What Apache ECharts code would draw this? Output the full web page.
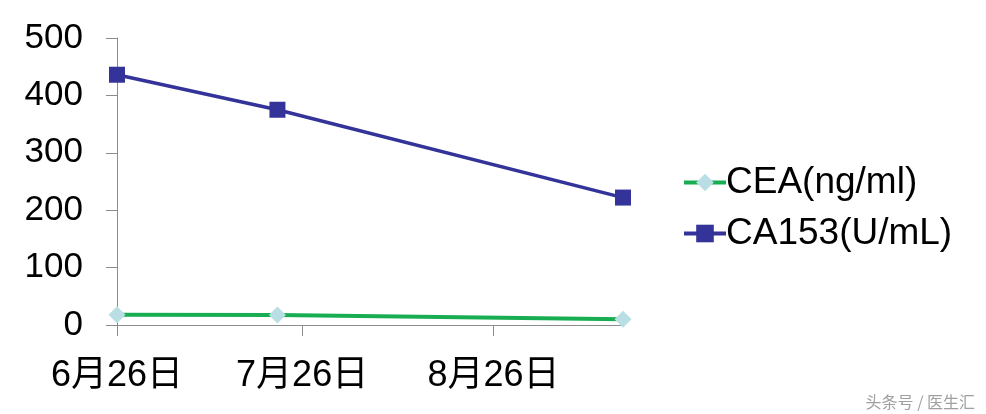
<!DOCTYPE html>
<html>
<head>
<meta charset="utf-8">
<script src="https://cdn.jsdelivr.net/npm/echarts@6/dist/echarts.min.js"></script>
<style>
html,body{margin:0;padding:0;background:#fff;}
#c{width:986px;height:414px;}
</style>
</head>
<body>
<div id="c"></div>
<script>
// Days since 6月26日
var dayOffsets = [0, 26, 82];
var ceaValues = [18, 17.5, 10];
var ca153Values = [436, 375, 222];
var tickDays = [0, 30, 61];
var tickLabels = ['6月26日', '7月26日', '8月26日'];

function pairs(xs, ys) { return xs.map(function (x, i) { return [x, ys[i]]; }); }

var FONT = '"Liberation Sans", Arial, "Noto Sans CJK SC", sans-serif';
var chart = echarts.init(document.getElementById('c'));
chart.setOption({
  animation: false,
  backgroundColor: '#fff',
  grid: { left: 117, top: 38, width: 506, height: 287, containLabel: false },
  xAxis: {
    type: 'value', min: 0, max: 82,
    splitLine: { show: false },
    axisLine: { lineStyle: { color: '#8c8c8c', width: 1 } },
    axisTick: { show: true, length: 11, customValues: tickDays, lineStyle: { color: '#8c8c8c' } },
    axisLabel: {
      customValues: tickDays, margin: 33, color: '#000', fontSize: 36, fontFamily: FONT,
      formatter: function (v) { var i = tickDays.indexOf(v); return i >= 0 ? tickLabels[i] : ''; }
    }
  },
  yAxis: {
    type: 'value', min: 0, max: 500, interval: 100,
    splitLine: { show: false },
    axisLine: { show: true, lineStyle: { color: '#8c8c8c', width: 1 } },
    axisTick: { show: true, length: 11, lineStyle: { color: '#8c8c8c' } },
    axisLabel: { margin: 34, color: '#000', fontSize: 35, fontFamily: FONT }
  },
  legend: {
    orient: 'vertical', left: 677, top: 159, itemGap: 14,
    itemWidth: 42, itemHeight: 22,
    lineStyle: { width: 4 },
    textStyle: { color: '#000', fontSize: 37, fontFamily: FONT, padding: [0, 0, 0, -5] },
    data: ['CEA(ng/ml)', 'CA153(U/mL)']
  },
  graphic: [{
    type: 'text', right: 11, top: 394,
    style: { text: '头条号 / 医生汇', fill: '#a0a0a0', fontSize: 16, fontFamily: '"Noto Sans CJK SC", sans-serif' }
  }],
  series: [
    {
      name: 'CEA(ng/ml)', type: 'line', data: pairs(dayOffsets, ceaValues),
      symbol: 'diamond', symbolSize: 17,
      lineStyle: { color: '#19ad52', width: 4 },
      itemStyle: { color: '#b9dfe5' },
      color: '#19ad52'
    },
    {
      name: 'CA153(U/mL)', type: 'line', data: pairs(dayOffsets, ca153Values),
      symbol: 'rect', symbolSize: 16,
      lineStyle: { color: '#333399', width: 3.5 },
      itemStyle: { color: '#333399' },
      color: '#333399'
    }
  ]
});
</script>
</body>
</html>
